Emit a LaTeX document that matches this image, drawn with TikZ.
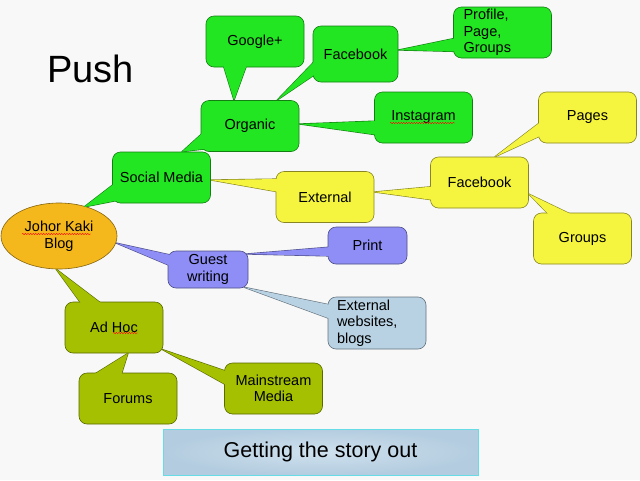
\documentclass[tikz,border=0pt]{standalone}
\usepackage{fontspec}
\setmainfont{Liberation Sans}
\usetikzlibrary{calc,shapes.geometric,decorations.pathmorphing}
\pgfdeclarelayer{bg}\pgfdeclarelayer{fg}\pgfsetlayers{bg,main,fg}
\definecolor{bgcol}{HTML}{F8F8F8}
\definecolor{cgreen}{HTML}{22E622}
\definecolor{cyellow}{HTML}{F5F43E}
\definecolor{cpurple}{HTML}{8E8EF6}
\definecolor{colive}{HTML}{A4C000}
\definecolor{clblue}{HTML}{B8D1E3}
\definecolor{corange}{HTML}{F4B81C}
\definecolor{storyin}{HTML}{CFE1EE}
\definecolor{storyout}{HTML}{B3CCDF}
\definecolor{storyedge}{HTML}{66DDE6}
\newcommand{\ptr}[4]{%
  \begin{pgfonlayer}{bg}\draw[line width=1.2pt, draw=#1!55!black, line join=round] #2 -- #4 -- #3 -- cycle;\end{pgfonlayer}
  \begin{pgfonlayer}{fg}\fill[#1] #2 -- #4 -- #3 -- cycle;\end{pgfonlayer}}
\tikzset{
  box/.style={rectangle, rounded corners=8pt, minimum width=98pt, minimum height=51pt, inner sep=0pt,
    draw=#1!55!black, fill=#1, line width=0.6pt, font=\fontsize{14.5}{16.5}\selectfont, align=center},
  squiggle/.style={red, line width=0.4pt, decorate, decoration={snake, amplitude=0.6pt, segment length=2.6pt}}
}
\begin{document}
\begin{tikzpicture}[x=1pt,y=-1pt]
\begin{pgfonlayer}{bg}\fill[bgcol] (0,0) rectangle (640,480);\end{pgfonlayer}
\useasboundingbox (0,0) rectangle (640,480);

\node[anchor=base west, inner sep=0pt, font=\fontsize{38}{40}\selectfont] (push) at (47,82) {Push};

\node[ellipse, minimum width=116pt, minimum height=66pt, inner sep=0pt, draw=corange!55!black, fill=corange, line width=0.6pt,
  font=\fontsize{14.5}{16.5}\selectfont, align=center] (jk) at (59,236) {Johor Kaki\\Blog};

\node[box=cgreen] (gplus) at (255,41.5) {Google+};
\node[box=cgreen] (org) at (250,126) {Organic};
\node[box=cgreen] (sm) at (161.5,177.5) {Social Media};
\node[box=cgreen, minimum width=85pt, minimum height=56pt] (fbg) at (355.5,54) {Facebook};
\node[box=cgreen, text width=78pt, align=left] (prof) at (502.5,32.5) {Profile,\\Page,\\Groups};
\node[box=cgreen] (insta) at (423.5,117.5) {Instagram};

\node[box=cyellow] (ext) at (325,197) {External};
\node[box=cyellow] (fby) at (479.5,182.5) {Facebook};
\node[box=cyellow] (pages) at (587.5,117.5) {Pages};
\node[box=cyellow] (groups) at (582.5,238.5) {Groups};

\node[box=cpurple, minimum width=80pt, minimum height=37pt] (guest) at (208,269.5) {Guest\\writing};
\node[box=cpurple, minimum width=79pt, minimum height=37pt] (print) at (367.5,245.5) {Print};
\node[box=clblue, minimum height=52pt, text width=80pt, align=left] (extweb) at (377,323) {External\\websites,\\blogs};

\node[box=colive] (adhoc) at (114,327.5) {Ad Hoc};
\node[box=colive] (forums) at (128,398.5) {Forums};
\node[box=colive] (mm) at (273.5,388.5) {Mainstream\\Media};

\node[rectangle, minimum width=315pt, minimum height=46pt, draw=storyedge, line width=0.8pt, inner color=storyin, outer color=storyout,
  font=\fontsize{21.5}{24}\selectfont] (story) at (320.5,452) {Getting the story out};

% pointers
\ptr{cgreen}{($(gplus.south)+(-32,-3)$)}{($(gplus.south)+(-8,-3)$)}{($(org.north)+(-16,0)$)}
\ptr{cgreen}{($(org.west)+(3,6)$)}{($(org.south west)+(5,-3)$)}{($(sm.north)+(20.5,0)$)}
\ptr{cgreen}{($(sm.west)+(3,5.5)$)}{($(sm.south west)+(6,-3)$)}{($(jk.center)+(25,-29)$)}
\ptr{cgreen}{($(fbg.west)+(3,6)$)}{($(fbg.west)+(3,20)$)}{($(org.north)+(27,0)$)}
\ptr{cgreen}{($(prof.west)+(3,5.5)$)}{($(prof.west)+(3,19)$)}{($(fbg.east)+(0,-4)$)}
\ptr{cgreen}{($(insta.west)+(3,3.5)$)}{($(insta.west)+(3,17.5)$)}{($(org.east)+(0,-2)$)}
\ptr{cyellow}{($(pages.west)+(3,4)$)}{($(pages.west)+(3,18)$)}{($(fby.north)+(15.5,0)$)}
\ptr{cyellow}{($(fby.west)+(3,4)$)}{($(fby.west)+(3,17.5)$)}{($(ext.east)+(0,-5)$)}
\ptr{cyellow}{($(groups.north)+(-32.5,3)$)}{($(groups.north)+(-8.5,3)$)}{($(fby.east)+(0,11.5)$)}
\ptr{cyellow}{($(ext.west)+(3,-18)$)}{($(ext.west)+(3,-5)$)}{($(sm.east)+(0,2.5)$)}
\ptr{cpurple}{($(guest.west)+(3,-14.5)$)}{($(guest.west)+(3,-3.5)$)}{($(jk.center)+(57,7)$)}
\ptr{cpurple}{($(print.west)+(3,1.5)$)}{($(print.west)+(3,10.5)$)}{($(guest.east)+(-2,-15.5)$)}
\ptr{clblue}{($(extweb.west)+(3,-18)$)}{($(extweb.west)+(3,-4)$)}{($(guest.south east)+(-4,-1)$)}
\ptr{colive}{($(adhoc.north)+(-32,3)$)}{($(adhoc.north)+(-11,3)$)}{($(jk.center)+(-3,33)$)}
\ptr{colive}{($(forums.north)+(-36,3)$)}{($(forums.north)+(-7,3)$)}{($(adhoc.south)+(14,0)$)}
\ptr{colive}{($(mm.west)+(3,-17)$)}{($(mm.west)+(3,-3)$)}{($(adhoc.east)+(-1,22)$)}

% spell-check squiggles
\coordinate (sq1a) at (22,234); \coordinate (sq1b) at (91,234);
\coordinate (sq2a) at (113,333); \coordinate (sq2b) at (138,333);
\coordinate (sq3a) at (390,123); \coordinate (sq3b) at (455,123);
\draw[squiggle] (sq1a) -- (sq1b);
\draw[squiggle] (sq2a) -- (sq2b);
\draw[squiggle] (sq3a) -- (sq3b);
\end{tikzpicture}
\end{document}
